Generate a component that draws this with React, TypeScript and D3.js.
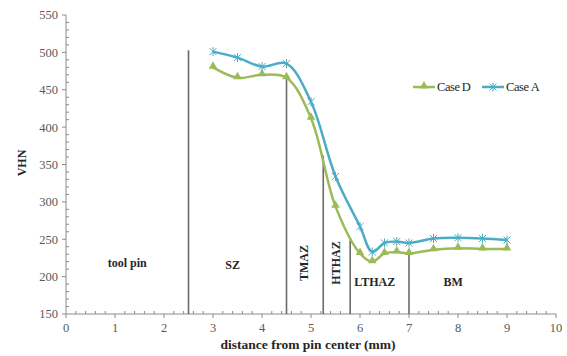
import React, {useEffect, useRef} from 'react';
import * as d3 from 'd3';

// distance from pin center (mm)
const distances = [3, 3.5, 4, 4.5, 5, 5.5, 6, 6.25, 6.5, 6.75, 7, 7.5, 8, 8.5, 9];
// hardness values
const caseA = [501, 493, 481, 485, 434, 334, 267, 233, 245, 247, 245, 251, 252, 251, 249];
const caseD = [480, 466, 470, 466, 412, 294, 231, 220, 231, 233, 231, 236, 238, 237, 237];

const xTicks = [0, 1, 2, 3, 4, 5, 6, 7, 8, 9, 10];
const yTicks = [150, 200, 250, 300, 350, 400, 450, 500, 550];

// zone boundaries: x position and the value where the line stops
const zoneX = [2.5, 4.5, 5.25, 5.8, 7];
const zoneTop = [503, 465, 362, 250, 231];

const zoneLabels = [
  {text: 'tool pin', x: 1.25, y: 263, rotate: false},
  {text: 'SZ', x: 3.4, y: 265, rotate: false},
  {text: 'TMAZ', x: 4.85, y: 263, rotate: true},
  {text: 'HTHAZ', x: 5.5, y: 263, rotate: true},
  {text: 'LTHAZ', x: 6.3, y: 282, rotate: false},
  {text: 'BM', x: 7.9, y: 282, rotate: false},
];

const GREEN = '#9bbb59';
const BLUE = '#4bacc6';
const FONT = "'Liberation Serif', 'Times New Roman', serif";

const App: React.FC = () => {
  const svgRef = useRef<SVGSVGElement>(null);

  useEffect(() => {
    if (!svgRef.current) return;
    const svg = d3.select(svgRef.current);
    svg.selectAll('*').remove();

    const x = d3.scaleLinear().domain([0, 10]).range([66, 556]);
    const y = d3.scaleLinear().domain([150, 550]).range([314, 15]);

    // Axes lines
    svg
      .append('line')
      .attr('x1', x(0))
      .attr('x2', x(0))
      .attr('y1', y(550))
      .attr('y2', y(150))
      .attr('stroke', '#8c8c8c');
    svg
      .append('line')
      .attr('x1', x(0))
      .attr('x2', x(10))
      .attr('y1', y(150))
      .attr('y2', y(150))
      .attr('stroke', '#8c8c8c');

    // Y ticks (major outward, minor inward)
    svg
      .append('g')
      .selectAll('line')
      .data(d3.range(150, 551, 10))
      .join('line')
      .attr('x1', (d) => (d % 50 === 0 ? x(0) - 4 : x(0)))
      .attr('x2', (d) => (d % 50 === 0 ? x(0) : x(0) + 3))
      .attr('y1', (d) => y(d))
      .attr('y2', (d) => y(d))
      .attr('stroke', '#8c8c8c');

    svg
      .append('g')
      .selectAll('text')
      .data(yTicks)
      .join('text')
      .attr('x', x(0) - 8)
      .attr('y', (d) => y(d))
      .attr('dy', '0.35em')
      .attr('text-anchor', 'end')
      .style('font-family', FONT)
      .attr('font-size', 12.5)
      .attr('fill', '#595959')
      .text((d) => d);

    // X ticks
    svg
      .append('g')
      .selectAll('line')
      .data(d3.range(0, 50.5, 1).map((d) => d / 5))
      .join('line')
      .attr('x1', (d) => x(d))
      .attr('x2', (d) => x(d))
      .attr('y1', (d) =>
        Math.abs(d - Math.round(d)) < 1e-6 ? y(150) + 4 : y(150),
      )
      .attr('y2', (d) =>
        Math.abs(d - Math.round(d)) < 1e-6 ? y(150) : y(150) - 3,
      )
      .attr('stroke', '#8c8c8c');

    svg
      .append('g')
      .selectAll('text')
      .data(xTicks)
      .join('text')
      .attr('x', (d) => x(d))
      .attr('y', y(150) + 18)
      .attr('text-anchor', 'middle')
      .style('font-family', FONT)
      .attr('font-size', 12.5)
      .attr('fill', '#595959')
      .text((d) => d);

    // Axis titles
    svg
      .append('text')
      .attr('x', 308)
      .attr('y', 349)
      .attr('text-anchor', 'middle')
      .style('font-family', FONT)
      .attr('font-size', 13.5)
      .attr('font-weight', 'bold')
      .attr('fill', '#262626')
      .text('distance from pin center (mm)');

    svg
      .append('text')
      .attr('transform', 'translate(26,163) rotate(-90)')
      .attr('text-anchor', 'middle')
      .style('font-family', FONT)
      .attr('font-size', 12)
      .attr('font-weight', 'bold')
      .attr('fill', '#262626')
      .text('VHN');

    // Zone boundary lines
    svg
      .append('g')
      .selectAll('line')
      .data(zoneX)
      .join('line')
      .attr('x1', (d) => x(d))
      .attr('x2', (d) => x(d))
      .attr('y1', y(150))
      .attr('y2', (d, i) => y(zoneTop[i]))
      .attr('stroke', '#6a6a6a')
      .attr('stroke-width', 1.6);

    // Zone labels
    svg
      .append('g')
      .selectAll('text')
      .data(zoneLabels)
      .join('text')
      .attr('transform', (d) =>
        d.rotate
          ? `translate(${x(d.x) + 4},${d.y}) rotate(-90)`
          : `translate(${x(d.x)},${d.y + 4})`,
      )
      .attr('text-anchor', 'middle')
      .style('font-family', FONT)
      .attr('font-size', 12)
      .attr('font-weight', 'bold')
      .attr('fill', '#262626')
      .text((d) => d.text);

    const line = d3
      .line<number>()
      .x((_, i) => x(distances[i]))
      .y((d) => y(d))
      .curve(d3.curveCatmullRom.alpha(0.5));

    svg
      .append('path')
      .datum(caseD)
      .attr('fill', 'none')
      .attr('stroke', GREEN)
      .attr('stroke-width', 2.5)
      .attr('d', line);

    svg
      .append('path')
      .datum(caseA)
      .attr('fill', 'none')
      .attr('stroke', BLUE)
      .attr('stroke-width', 2.5)
      .attr('d', line);

    const triangle = d3.symbol().type(d3.symbolTriangle).size(32);
    const star = (cx: number, cy: number, r: number) =>
      `M${cx - r},${cy - r}L${cx + r},${cy + r}M${cx - r},${cy + r}L${cx + r},${cy - r}M${cx},${cy - r - 1}L${cx},${cy + r + 1}`;

    svg
      .append('g')
      .selectAll('path')
      .data(caseD)
      .join('path')
      .attr('transform', (d, i) => `translate(${x(distances[i])},${y(d) - 1})`)
      .attr('d', triangle)
      .attr('fill', GREEN);

    svg
      .append('g')
      .selectAll('path')
      .data(caseA)
      .join('path')
      .attr('d', (d, i) => star(x(distances[i]), y(d), 3.5))
      .attr('stroke', BLUE)
      .attr('stroke-width', 1)
      .attr('fill', 'none');

    // Legend
    const legend = svg.append('g');
    const items = [
      {label: 'CaseD', color: GREEN, x0: 413, tri: true},
      {label: 'CaseA', color: BLUE, x0: 482, tri: false},
    ];
    items.forEach((it) => {
      legend
        .append('line')
        .attr('x1', it.x0)
        .attr('x2', it.x0 + 22)
        .attr('y1', 87)
        .attr('y2', 87)
        .attr('stroke', it.color)
        .attr('stroke-width', 2.5);
      if (it.tri) {
        legend
          .append('path')
          .attr('transform', `translate(${it.x0 + 11},86)`)
          .attr('d', triangle)
          .attr('fill', it.color);
      } else {
        legend
          .append('path')
          .attr('d', star(it.x0 + 11, 87, 3.5))
          .attr('stroke', it.color)
          .attr('fill', 'none');
      }
      legend
        .append('text')
        .attr('x', it.x0 + 24)
        .attr('y', 87)
        .attr('dy', '0.35em')
        .style('font-family', FONT)
        .attr('font-size', 12.5)
        .attr('letter-spacing', -0.4)
        .attr('fill', '#262626')
        .text(it.label.replace('Case', 'Case\u2009'));
    });
  }, []);

  return (
    <svg
      ref={svgRef}
      width={567}
      height={356}
      style={{position: 'absolute', left: 0, top: 0, background: '#fff'}}
    />
  );
};

export default App;
